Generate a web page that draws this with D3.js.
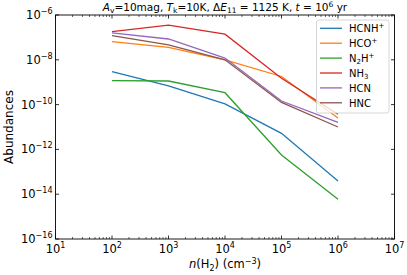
<!DOCTYPE html>
<html><head><meta charset="utf-8">
<script src="https://cdn.jsdelivr.net/npm/d3@7"></script>
<style>body{margin:0;background:#fff}text{font-family:"DejaVu Sans",sans-serif}</style>
</head><body><svg id="c" width="407" height="275"></svg>
<script>
const density = [1e2, 1e3, 1e4, 1e5, 1e6];
const seriesNames = ["HCNH+", "HCO+", "N2H+", "NH3", "HCN", "HNC"];
const HCNH = [3.0e-9, 6.9e-10, 1.07e-10, 5.2e-12, 3.9e-14];
const HCO = [6.5e-8, 3.6e-8, 1.0e-8, 1.8e-9, 2.5e-11];
const N2H = [1.17e-9, 1.13e-9, 3.4e-10, 5.6e-13, 5.9e-15];
const NH3 = [1.8e-7, 3.5e-7, 1.4e-7, 1.5e-9, 3.7e-11];
const HCN = [1.6e-7, 8.5e-8, 1.2e-8, 1.45e-10, 1.6e-11];
const HNC = [1.2e-7, 4.6e-8, 1.0e-8, 1.25e-10, 1.0e-11];
const xTickExp = [1, 2, 3, 4, 5, 6, 7];
const yTickExp = [-16, -14, -12, -10, -8, -6];
const colors = ["#1f77b4", "#ff7f0e", "#2ca02c", "#d62728", "#9467bd", "#8c564b"];
const values = [HCNH, HCO, N2H, NH3, HCN, HNC];

const svg = d3.select("#c");
const L = 55.5, R = 394.5, T = 15, B = 239;
const x = d3.scaleLog().domain([1e1, 1e7]).range([L, R]);
const y = d3.scaleLog().domain([1e-16, 1e-6]).range([B, T]);

const g = svg.append("g");
const minorX = [];
for (let e = 1; e < 7; e++) for (let m = 2; m <= 9; m++) minorX.push(m * Math.pow(10, e));
const tickCol = "#000";
g.selectAll(".mxb").data(minorX).join("line")
  .attr("x1", d => x(d)).attr("x2", d => x(d)).attr("y1", B).attr("y2", B - 2)
  .attr("stroke", tickCol).attr("stroke-width", 0.6);
g.selectAll(".mxt").data(minorX).join("line")
  .attr("x1", d => x(d)).attr("x2", d => x(d)).attr("y1", T).attr("y2", T + 2)
  .attr("stroke", tickCol).attr("stroke-width", 0.6);
g.selectAll(".Mxb").data(xTickExp).join("line")
  .attr("x1", d => x(Math.pow(10, d))).attr("x2", d => x(Math.pow(10, d))).attr("y1", B).attr("y2", B - 3.5)
  .attr("stroke", tickCol).attr("stroke-width", 0.8);
g.selectAll(".Mxt").data(xTickExp).join("line")
  .attr("x1", d => x(Math.pow(10, d))).attr("x2", d => x(Math.pow(10, d))).attr("y1", T).attr("y2", T + 3.5)
  .attr("stroke", tickCol).attr("stroke-width", 0.8);
g.selectAll(".Myl").data(yTickExp).join("line")
  .attr("y1", d => y(Math.pow(10, d))).attr("y2", d => y(Math.pow(10, d))).attr("x1", L).attr("x2", L + 3.5)
  .attr("stroke", tickCol).attr("stroke-width", 0.8);
g.selectAll(".Myr").data(yTickExp).join("line")
  .attr("y1", d => y(Math.pow(10, d))).attr("y2", d => y(Math.pow(10, d))).attr("x1", R).attr("x2", R - 3.5)
  .attr("stroke", tickCol).attr("stroke-width", 0.8);

xTickExp.forEach(e => {
  const t = g.append("text").attr("x", x(Math.pow(10, e))).attr("y", B + 14)
    .attr("text-anchor", "middle").attr("font-size", 11.5);
  t.append("tspan").text("10");
  t.append("tspan").attr("dy", -5).attr("font-size", 8).text(e);
});
yTickExp.forEach(e => {
  const t = g.append("text").attr("x", L - 3).attr("y", y(Math.pow(10, e)) + 4)
    .attr("text-anchor", "end").attr("font-size", 11.5);
  t.append("tspan").text("10");
  t.append("tspan").attr("dy", -5).attr("font-size", 8).text("\u2212" + (-e));
});

const line = d3.line().x((d, i) => x(density[i])).y(d => y(d));
values.forEach((v, k) => {
  svg.append("path").attr("d", line(v)).attr("fill", "none")
    .attr("stroke", colors[k]).attr("stroke-width", 1.3);
});

svg.append("rect").attr("x", L).attr("y", T).attr("width", R - L).attr("height", B - T)
  .attr("fill", "none").attr("stroke", "#000").attr("stroke-width", 0.9);

const lg = svg.append("g");
lg.append("rect").attr("x", 316.5).attr("y", 20).attr("width", 72.5).attr("height", 93)
  .attr("rx", 2).attr("fill", "#fff").attr("fill-opacity", 0.8).attr("stroke", "#ccc").attr("stroke-width", 0.8);
const labelParts = [
  [["HCNH", 0], ["+", 1]],
  [["HCO", 0], ["+", 1]],
  [["N", 0], ["2", -1], ["H", 0], ["+", 1]],
  [["NH", 0], ["3", -1]],
  [["HCN", 0]],
  [["HNC", 0]]
];
labelParts.forEach((parts, i) => {
  const yy = 28.3 + i * 14.9;
  lg.append("line").attr("x1", 320).attr("x2", 342).attr("y1", yy).attr("y2", yy)
    .attr("stroke", colors[i]).attr("stroke-width", 1.3);
  const t = lg.append("text").attr("x", 349).attr("y", yy + 3.8).attr("font-size", 10);
  let prev = 0;
  parts.forEach(([s, lvl]) => {
    const ts = t.append("tspan").text(s);
    const off = lvl === 1 ? -4 : (lvl === -1 ? 2.5 : 0);
    if (off - prev !== 0) ts.attr("dy", off - prev);
    if (lvl !== 0) ts.attr("font-size", 7);
    prev = off;
  });
});

const tt = svg.append("text").attr("x", (L + R) / 2).attr("y", 11).attr("text-anchor", "middle").attr("font-size", 10.5);
tt.append("tspan").attr("font-style", "italic").text("A");
tt.append("tspan").attr("dy", 2).attr("font-size", 7.5).text("v");
tt.append("tspan").attr("dy", -2).text("=10mag, ");
tt.append("tspan").attr("font-style", "italic").text("T");
tt.append("tspan").attr("dy", 2).attr("font-size", 7.5).text("k");
tt.append("tspan").attr("dy", -2).text("=10K, \u0394");
tt.append("tspan").attr("font-style", "italic").text("E");
tt.append("tspan").attr("dy", 2).attr("font-size", 7.5).text("11");
tt.append("tspan").attr("dy", -2).text(" = 1125 K, ");
tt.append("tspan").attr("font-style", "italic").text("t");
tt.append("tspan").text(" = 10");
tt.append("tspan").attr("dy", -4).attr("font-size", 7.5).text("6");
tt.append("tspan").attr("dy", 4).text(" yr");

const xl = svg.append("text").attr("x", (L + R) / 2).attr("y", 268).attr("text-anchor", "middle").attr("font-size", 11.5);
xl.append("tspan").attr("font-style", "italic").text("n");
xl.append("tspan").text("(H");
xl.append("tspan").attr("dy", 2.5).attr("font-size", 8).text("2");
xl.append("tspan").attr("dy", -2.5).text(") (cm");
xl.append("tspan").attr("dy", -4.5).attr("font-size", 8).text("\u22123");
xl.append("tspan").attr("dy", 4.5).text(")");

svg.append("text").attr("transform", `translate(13,${(T + B) / 2}) rotate(-90)`)
  .attr("text-anchor", "middle").attr("font-size", 12).text("Abundances");
</script></body></html>
